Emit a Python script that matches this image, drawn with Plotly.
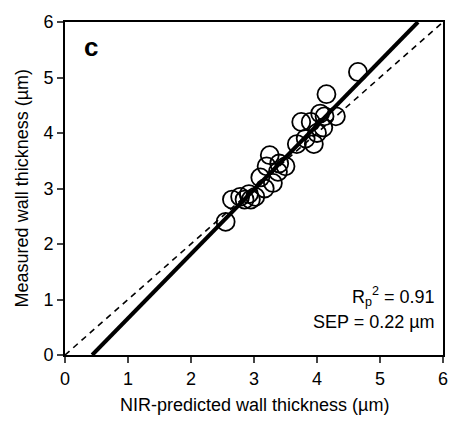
import plotly.graph_objects as go

predicted = [2.55, 2.65, 2.78, 2.85, 2.92, 2.95, 3.02, 3.1, 3.17, 3.2, 3.25, 3.3, 3.38, 3.4, 3.5,
             3.68, 3.75, 3.82, 3.9, 3.95, 4.0, 4.05, 4.1, 4.12, 4.15, 4.3, 4.65]
measured = [2.4, 2.8, 2.85, 2.8, 2.9, 2.8, 2.85, 3.2, 3.0, 3.4, 3.6, 3.1, 3.3, 3.45, 3.4,
            3.8, 4.2, 3.9, 4.2, 3.8, 4.0, 4.35, 4.1, 4.3, 4.7, 4.3, 5.1]
fit_slope = 1.16
fit_intercept = -0.50
axis_ticks = [0, 1, 2, 3, 4, 5, 6]

x0 = -fit_intercept / fit_slope
x1 = (6 - fit_intercept) / fit_slope

fig = go.Figure()
fig.add_trace(go.Scatter(x=[0, 6], y=[0, 6], mode="lines",
                         line=dict(color="black", width=1.6, dash="6px,5px"), showlegend=False))
fig.add_trace(go.Scatter(x=[x0, x1], y=[fit_slope * x0 + fit_intercept, fit_slope * x1 + fit_intercept],
                         mode="lines", line=dict(color="black", width=4), showlegend=False))
fig.add_trace(go.Scatter(x=predicted, y=measured, mode="markers",
                         marker=dict(size=18, color="rgba(255,255,255,0.0)", line=dict(color="black", width=1.8)),
                         showlegend=False))

fam = "Liberation Sans, Arial, sans-serif"
font = dict(family=fam, size=18, color="black")
axis_common = dict(range=[0, 6], tickvals=axis_ticks, ticks="outside", ticklen=6, tickwidth=2,
                   showline=True, linewidth=2, linecolor="black", mirror=True, showgrid=False,
                   zeroline=False, tickfont=font, automargin=False)
fig.update_layout(
    width=449, height=433,
    margin=dict(l=65, r=6, t=22, b=78),
    plot_bgcolor="white", paper_bgcolor="white",
    font=font,
    xaxis=dict(**axis_common),
    yaxis=dict(**axis_common),
    annotations=[
        dict(x=0.5, y=-0.15, xref="paper", yref="paper", text="NIR-predicted wall thickness (µm)",
             showarrow=False, font=font, xanchor="center", yanchor="middle"),
        dict(x=-0.114, y=0.5, xref="paper", yref="paper", text="Measured wall thickness (µm)",
             showarrow=False, font=font, xanchor="center", yanchor="middle", textangle=-90),
        dict(x=0.045, y=0.925, xref="paper", yref="paper", text="<b>c</b>", showarrow=False,
             font=dict(family=fam, size=26, color="black"),
             xanchor="left", yanchor="middle"),
        dict(x=0.985, y=0.175, xref="paper", yref="paper", text="R<sub>p</sub><sup>2</sup> = 0.91",
             showarrow=False, font=font, xanchor="right", yanchor="middle"),
        dict(x=0.985, y=0.1, xref="paper", yref="paper", text="SEP = 0.22 µm",
             showarrow=False, font=font, xanchor="right", yanchor="middle"),
    ],
)
fig.write_html("out.html", config={"displayModeBar": False},
               post_script="document.body.style.margin='0';")
